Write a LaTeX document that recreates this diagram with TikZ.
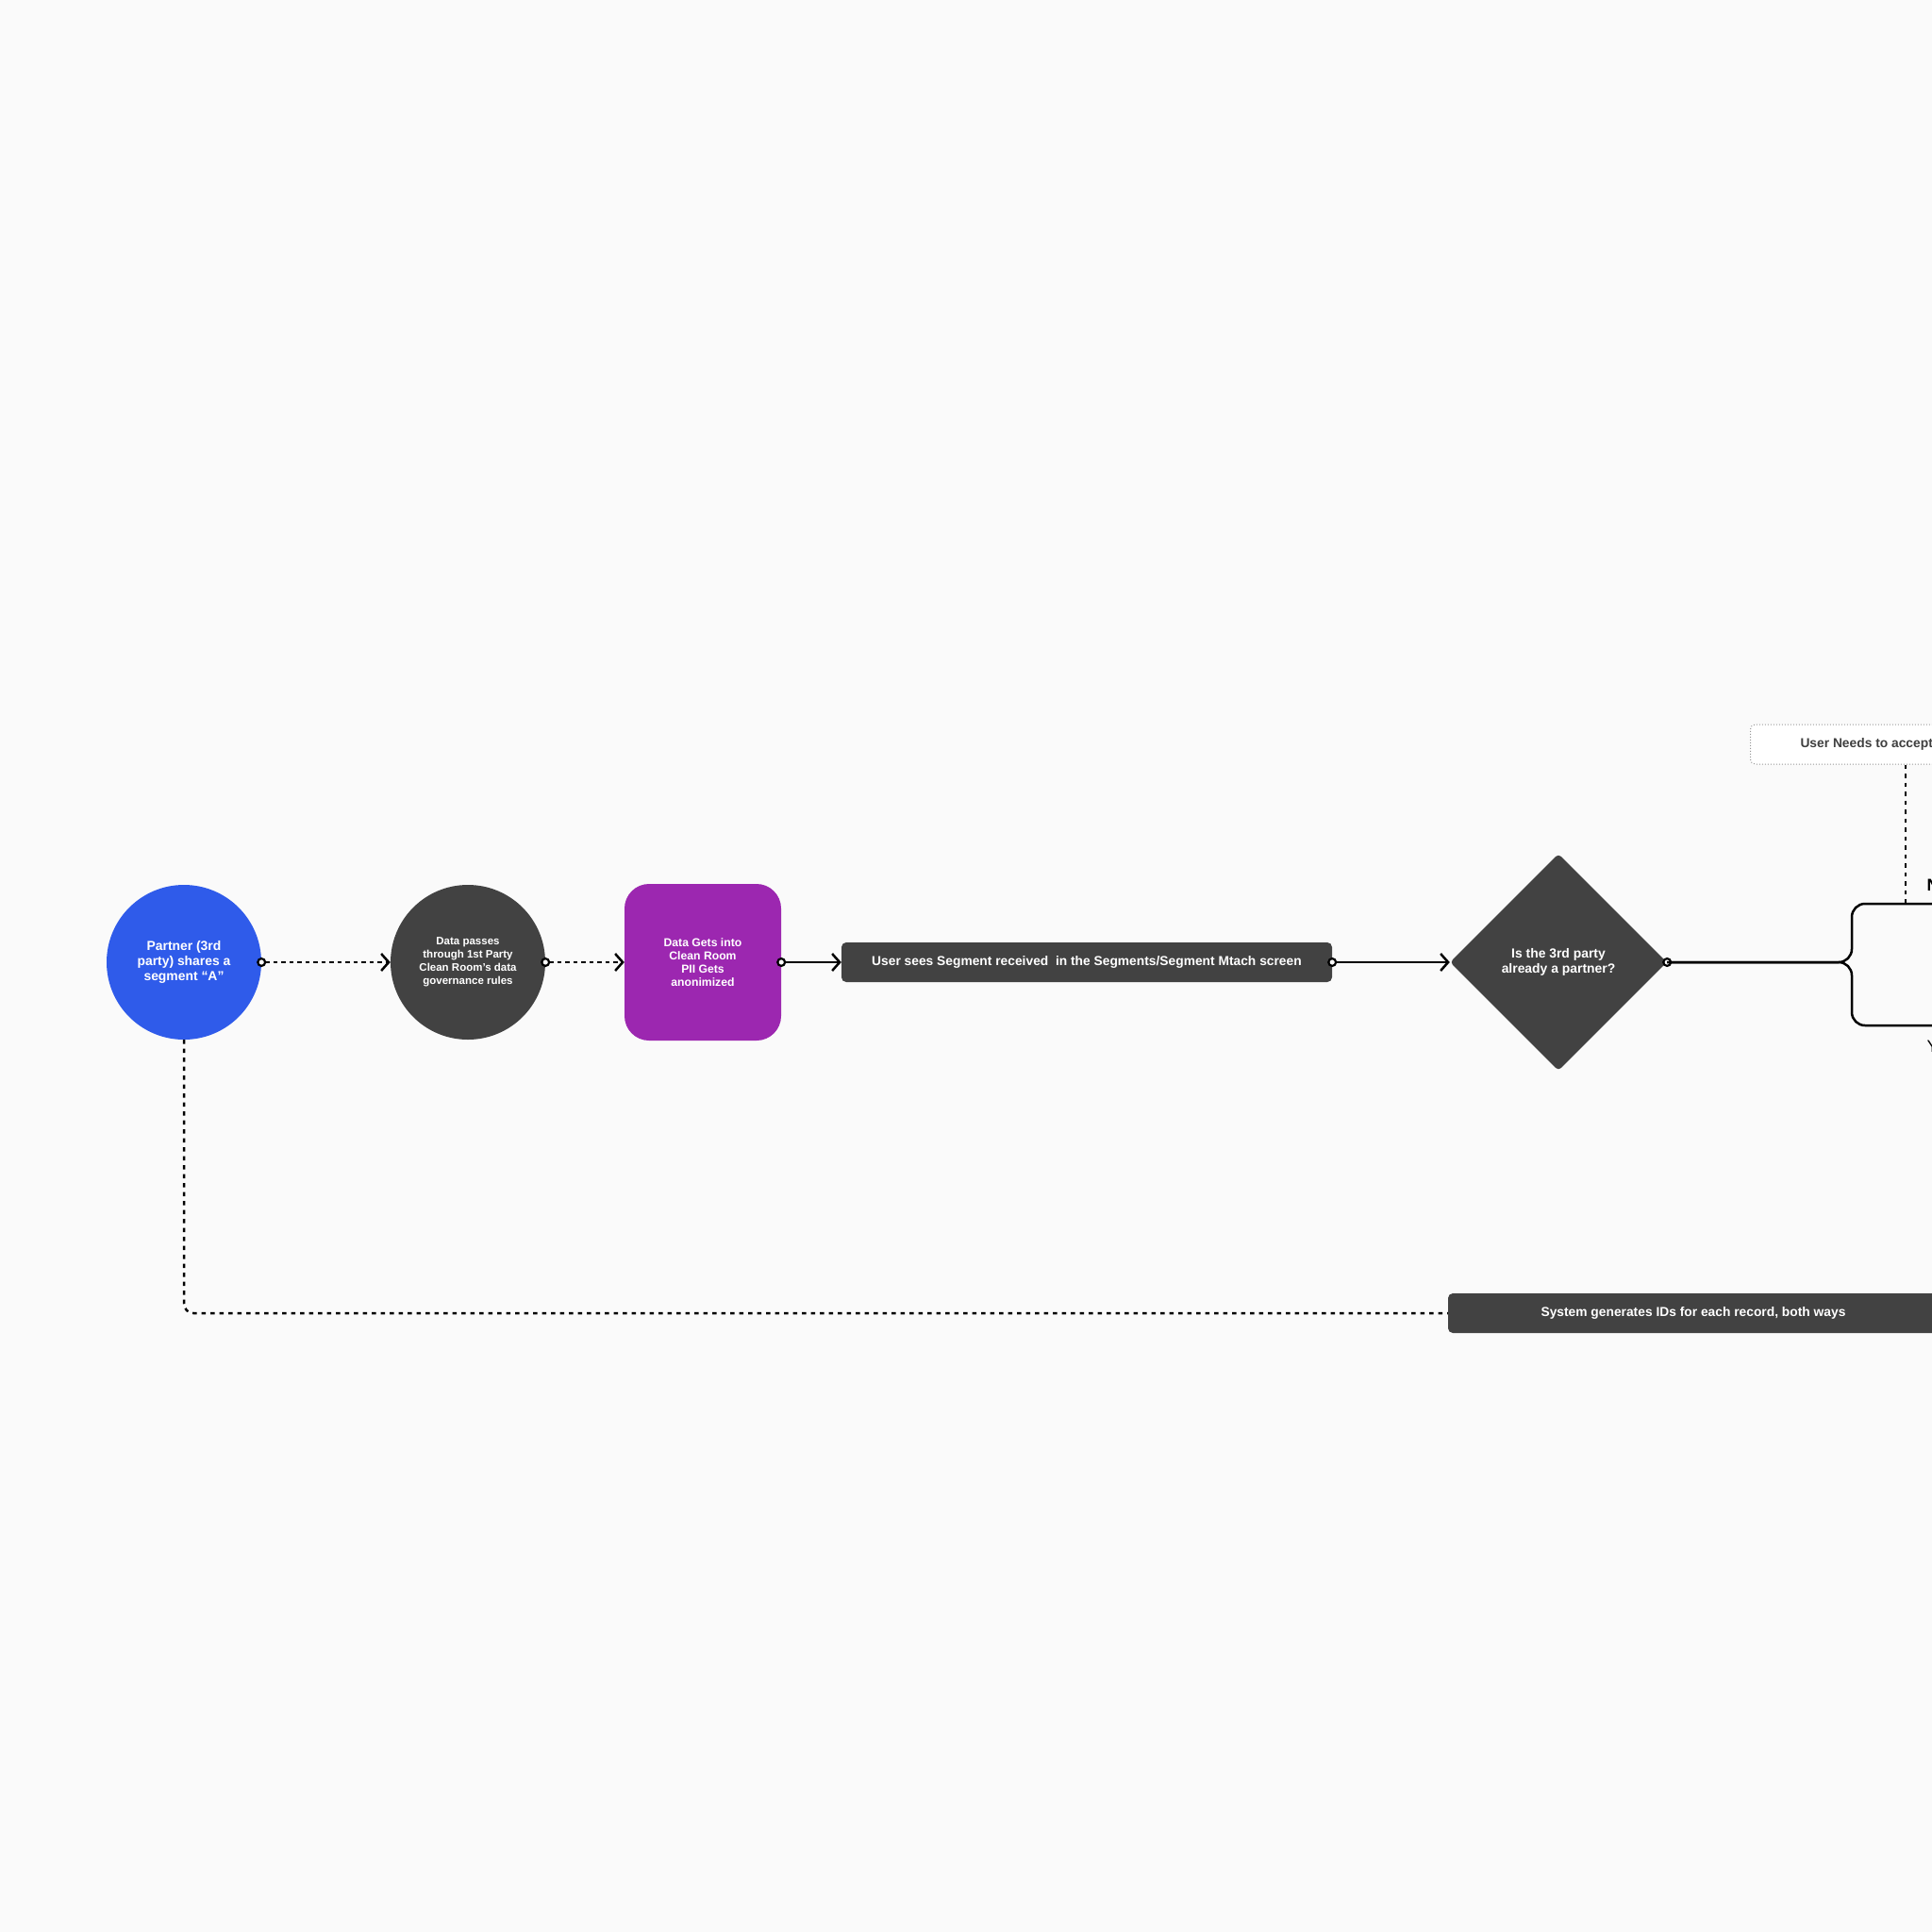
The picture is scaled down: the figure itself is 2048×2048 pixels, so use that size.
\documentclass[tikz,border=0pt]{standalone}
\usepackage{fontspec}
\setmainfont{Liberation Sans}
\usetikzlibrary{arrows.meta,shapes.geometric}
\definecolor{canvas}{HTML}{FAFAFA}
\definecolor{royal}{HTML}{2F5BEA}
\definecolor{charcoal}{HTML}{424242}
\definecolor{orchid}{HTML}{9C27B0}
\definecolor{inkgray}{HTML}{3F3F3F}
\tikzset{
  blob/.style={circle,fill=#1,minimum size=164pt,inner sep=0pt,align=center,text=white},
  tile/.style={rounded corners=26pt,fill=orchid,minimum size=166pt,inner sep=0pt,align=center,text=white},
  bar/.style={rounded corners=5pt,fill=charcoal,minimum width=520pt,minimum height=42pt,inner sep=0pt,text=white},
  choice/.style={diamond,aspect=1,rounded corners=4pt,fill=charcoal,minimum size=230pt,inner sep=0pt,align=center,text=white},
  note/.style={rounded corners=5pt,draw=gray!80,dotted,line width=1pt,fill=white,minimum height=42pt,inner xsep=53pt,text=inkgray},
  link/.style={{Circle[length=10pt,fill=white,line width=2.2pt]}-{Straight Barb[length=8pt,width=18pt]},line width=2.5pt,shorten <=-5pt},
  dotlink/.style={link,dash pattern=on 4.5pt off 4pt},
  dashline/.style={line width=2.5pt,dash pattern=on 4.5pt off 5pt},
  branch/.style={line width=2.5pt,rounded corners=14pt},
}
\begin{document}
\begin{tikzpicture}[x=1pt,y=-1pt,font=\bfseries]
\useasboundingbox (0,0) rectangle (2048,2048);
\clip (0,0) rectangle (2048,2048);
\fill[canvas] (0,0) rectangle (2048,2048);

% main row
\node[blob=royal,font=\bfseries\fontsize{13.9}{15.7}\selectfont] (partner) at (195,1020) {Partner (3rd\\party) shares a\\segment “A”};
\node[blob=charcoal,font=\bfseries\fontsize{11.5}{14}\selectfont] (govern) at (496,1020) {Data passes\\through 1st Party\\Clean Room’s data\\governance rules};
\node[tile,font=\bfseries\fontsize{12.2}{14}\selectfont] (cleanroom) at (745,1020) {Data Gets into\\Clean Room\\PII Gets\\anonimized};
\node[bar,font=\bfseries\fontsize{13.8}{15}\selectfont] (segbar) at (1152,1020) {User sees Segment received\ \ in the Segments/Segment Mtach screen};
\node[choice,font=\bfseries\fontsize{13.9}{15.7}\selectfont] (partnerq) at (1652,1020) {Is the 3rd party\\already a partner?};

\draw[dotlink] (partner) -- (govern);
\draw[dotlink] (govern) -- (cleanroom);
\draw[link] (cleanroom) -- (segbar);
\draw[link] (segbar) -- (partnerq);

% branch
\coordinate (noEnd) at (2070,958);
\coordinate (yesEnd) at (2070,1087);
\coordinate (noTap) at (2020,958);
\draw[branch,{Circle[length=10pt,fill=white,line width=2.2pt]}-,shorten <=-5pt] (partnerq.east) -| (1963,958) -- (noEnd);
\draw[branch] (partnerq.east) -| (1963,1087) -- (yesEnd);
\node[anchor=west,font=\bfseries\fontsize{18}{20}\selectfont] (nolbl) at (2039,938) {N};
\node[anchor=west,font=\fontsize{18}{20}\selectfont] (yeslbl) at (2039,1109) {Y};

% side notes
\node[note,anchor=west,font=\bfseries\fontsize{13.8}{15}\selectfont] (accept) at (1855,789) {User Needs to accept};
\draw[dashline] (accept.south -| noTap) -- (noTap);
\node[bar,font=\bfseries\fontsize{13.8}{15}\selectfont] (sysids) at (1795,1392) {System generates IDs for each record, both ways};
\draw[dashline,rounded corners=10pt] (partner.south) |- (sysids.west);
\end{tikzpicture}
\end{document}
